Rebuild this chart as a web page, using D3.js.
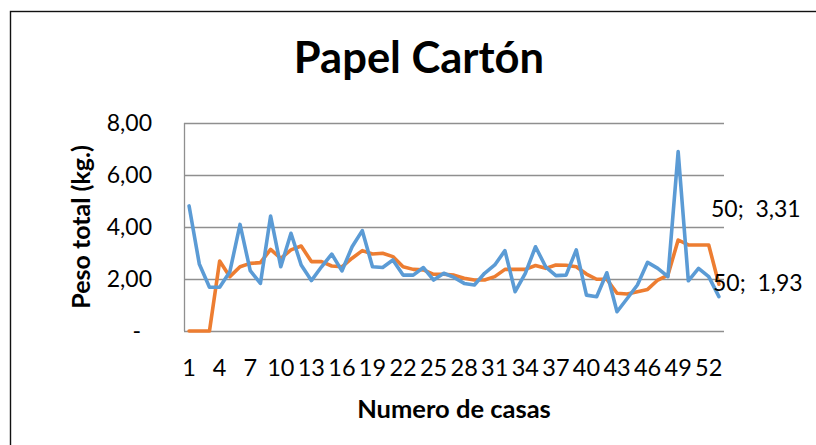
<!DOCTYPE html>
<html>
<head>
<meta charset="utf-8">
<script src="https://cdn.jsdelivr.net/npm/d3@7"></script>
<style>
  body { margin: 0; background: #fff; }
  svg { display: block; font-family: Lato, "Open Sans", sans-serif; }
</style>
</head>
<body>
<svg width="816" height="445"></svg>
<script>
// casas 1..53
const casas = d3.range(1, 54);
const tickCasas = d3.range(1, 54, 3); // 1, 4, 7 ... 52
const yTicks = [0, 2, 4, 6, 8];

// peso total por casa (azul)
const pesoCasa = [
    4.81, 2.58, 1.68, 1.68, 2.28, 4.10, 2.32, 1.83, 4.42, 2.47,
    3.76, 2.54, 1.94, 2.47, 2.96, 2.31, 3.24, 3.86, 2.47, 2.44,
    2.73, 2.15, 2.15, 2.44, 1.96, 2.22, 2.06, 1.83, 1.77, 2.22,
    2.54, 3.09, 1.51, 2.22, 3.24, 2.47, 2.13, 2.15, 3.12, 1.38,
    1.32, 2.24, 0.74, 1.25, 1.77, 2.64, 2.41, 2.09, 6.90, 1.93,
    2.41, 2.09, 1.32
];

// serie naranja
const pesoMedio = [
    0, 0, 0, 2.69, 2.09, 2.47, 2.60, 2.63, 3.14, 2.79,
    3.12, 3.27, 2.67, 2.67, 2.50, 2.47, 2.80, 3.09, 2.96, 2.99,
    2.86, 2.47, 2.37, 2.35, 2.18, 2.18, 2.15, 2.03, 1.96, 1.96,
    2.09, 2.37, 2.37, 2.37, 2.52, 2.41, 2.54, 2.53, 2.47, 2.19,
    1.99, 1.99, 1.45, 1.42, 1.51, 1.60, 1.96, 2.15, 3.50, 3.31,
    3.31, 3.31, 1.80
];

const labelCasa = 50;

const svg = d3.select("svg");
const plotL = 184, plotR = 724, plotT = 123, plotB = 331;

// chart border (runs off the right and bottom of the picture)
svg.append("rect")
    .attr("x", 10.5).attr("y", 11.5)
    .attr("width", 1000).attr("height", 1000)
    .attr("fill", "none")
    .attr("stroke", "#111")
    .attr("stroke-width", 1.4);

const x = d3.scalePoint().domain(casas).range([plotL, plotR]).padding(0.5);
const y = d3.scaleLinear().domain([0, 8]).range([plotB, plotT]);

const fmt = v => v === 0 ? "-" : d3.format(".2f")(v).replace(".", ",");

// gridlines
svg.append("g")
    .selectAll("line")
    .data(yTicks)
    .enter().append("line")
    .attr("x1", plotL).attr("x2", plotR)
    .attr("y1", d => Math.round(y(d)) + 0.5)
    .attr("y2", d => Math.round(y(d)) + 0.5)
    .attr("stroke", "#8f8f8f")
    .attr("stroke-width", 1.3);

// y axis line
svg.append("line")
    .attr("x1", plotL + 0.5).attr("x2", plotL + 0.5)
    .attr("y1", plotT).attr("y2", plotB)
    .attr("stroke", "#8f8f8f")
    .attr("stroke-width", 1.3);

// y tick labels
svg.append("g")
    .selectAll("text")
    .data(yTicks)
    .enter().append("text")
    .attr("x", d => d === 0 ? 141 : 152)
    .attr("y", d => y(d))
    .attr("dy", "0.35em")
    .attr("text-anchor", "end")
    .style("font-size", "23px")
    .style("fill", "#000")
    .text(fmt);

// x tick labels
svg.append("g")
    .selectAll("text")
    .data(tickCasas)
    .enter().append("text")
    .attr("x", d => x(d))
    .attr("y", 376)
    .attr("text-anchor", "middle")
    .style("font-size", "23.5px")
    .style("fill", "#000")
    .text(d => d);

const line = d3.line()
    .x((d, i) => x(casas[i]))
    .y(d => y(d));

svg.append("path")
    .datum(pesoMedio)
    .attr("d", line)
    .attr("fill", "none")
    .attr("stroke", "#ed7d31")
    .attr("stroke-width", 3.6)
    .attr("stroke-linejoin", "round")
    .attr("stroke-linecap", "round");

svg.append("path")
    .datum(pesoCasa)
    .attr("d", line)
    .attr("fill", "none")
    .attr("stroke", "#5b9bd5")
    .attr("stroke-width", 3.6)
    .attr("stroke-linejoin", "round")
    .attr("stroke-linecap", "round");

// data labels for casa 50 (moved by hand in the original)
const idx = casas.indexOf(labelCasa);
svg.append("text")
    .attr("x", plotR - 13).attr("y", 217)
    .style("font-size", "23px")
    .style("white-space", "pre")
    .text(`${labelCasa};  ${fmt(pesoMedio[idx])}`);
svg.append("text")
    .attr("x", plotR - 11).attr("y", 291)
    .style("font-size", "23px")
    .style("white-space", "pre")
    .text(`${labelCasa};  ${fmt(pesoCasa[idx])}`);

// title
svg.append("text")
    .attr("x", 419).attr("y", 73)
    .attr("text-anchor", "middle")
    .style("font-size", "43.5px")
    .style("font-weight", "bold")
    .text("Papel Cartón");

// axis titles
svg.append("text")
    .attr("x", (plotL + plotR) / 2).attr("y", 418)
    .attr("text-anchor", "middle")
    .style("font-size", "25.5px")
    .style("font-weight", "bold")
    .text("Numero de casas");

svg.append("text")
    .attr("transform", `translate(90,${(plotT + plotB) / 2}) rotate(-90)`)
    .attr("text-anchor", "middle")
    .style("font-size", "25px")
    .style("font-weight", "bold")
    .text("Peso total (kg.)");
</script>
</body>
</html>
